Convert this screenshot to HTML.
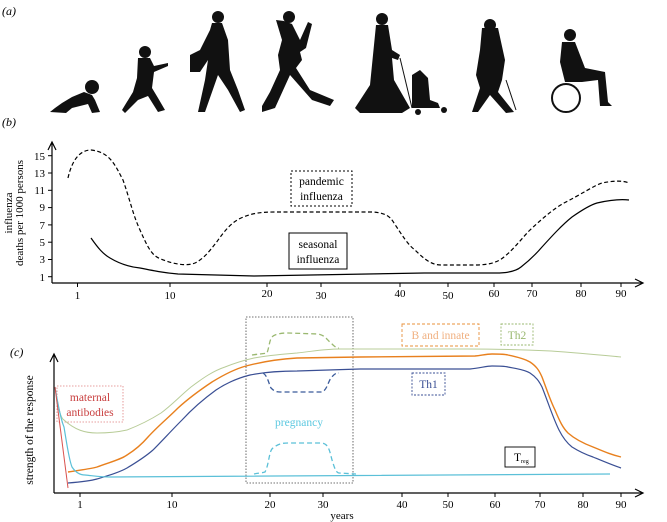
<!DOCTYPE html>
<html><head><meta charset="utf-8"><style>
html,body{margin:0;padding:0;background:#fff}
svg{display:block}
text{font-family:"Liberation Serif",serif}
</style></head><body>
<svg width="667" height="522" viewBox="0 0 667 522" xmlns="http://www.w3.org/2000/svg">
<text x="2" y="15" font-size="12" font-style="italic">(<tspan>a</tspan>)</text>
<text x="2" y="126" font-size="12" font-style="italic">(b)</text>
<text x="10" y="356" font-size="12" font-style="italic">(c)</text>

<!-- silhouettes -->
<g fill="#111">
 <!-- baby -->
 <circle cx="92" cy="87" r="7"/>
 <path d="M50 112 L55 108 L62 103 L72 97 L84 92 L92 95 L95 100 L100 112 L92 113 L88 104 L80 106 L72 108 L66 113 Z"/>
 <!-- child -->
 <circle cx="145" cy="52" r="6"/>
 <path d="M138 58 L150 58 L154 66 L168 63 L168 66 L154 72 L152 88 L158 98 L165 110 L158 112 L148 96 L138 100 L125 113 L122 110 L133 92 L137 78 Z"/>
 <!-- woman with bag -->
 <circle cx="218" cy="17" r="6"/>
 <path d="M212 23 L222 23 L228 40 L230 70 L238 90 L245 110 L240 112 L228 90 L218 75 L205 112 L198 112 L205 80 L208 60 L200 72 L190 72 L190 55 L200 50 L210 30 Z"/>
 <!-- pregnant -->
 <circle cx="289" cy="17" r="6"/>
 <path d="M276 20 L284 21 L292 24 L300 40 L308 22 L312 24 L306 48 L300 52 L302 60 L296 68 L310 90 L334 100 L330 106 L312 100 L290 75 L275 108 L262 112 L262 106 L270 92 L280 70 L278 55 L282 40 Z"/>
 <!-- woman with stroller -->
 <circle cx="382" cy="19" r="6"/>
 <path d="M376 25 L388 25 L392 50 L400 55 L398 60 L392 58 L394 80 L410 108 L402 113 L360 113 L355 108 L370 85 L373 55 Z"/>
 <path d="M412 75 L420 70 L428 78 L430 100 L438 103 L440 108 L412 108 Z"/>
 <circle cx="418" cy="112" r="3"/><circle cx="444" cy="110" r="3"/>
 <!-- elder -->
 <circle cx="490" cy="25" r="6"/>
 <path d="M482 28 L498 28 L505 60 L502 80 L498 92 L514 112 L506 113 L490 95 L478 112 L472 112 L480 88 L476 75 L480 50 Z"/>
 <!-- wheelchair -->
 <circle cx="570" cy="35" r="6"/>
 <path d="M562 42 L575 42 L585 68 L605 72 L608 102 L612 106 L600 106 L598 80 L582 82 L565 82 L560 62 Z"/>
</g>
<g fill="none" stroke="#111">
 <circle cx="566" cy="98" r="14" stroke-width="2"/>
 <line x1="506" y1="80" x2="516" y2="110" stroke-width="1"/>
 <path d="M400 58 L412 108" stroke-width="1"/>
</g>

<!-- panel b -->
<g stroke="#000" stroke-width="1.2" fill="none">
 <line x1="52" y1="143" x2="52" y2="283"/>
 <line x1="52" y1="283" x2="642" y2="283"/>
 <path d="M48 150 L52 142 L56 150"/>
 <path d="M635 279 L643 283 L635 287"/>
</g>
<g stroke="#000" stroke-width="1">
 <line x1="48" y1="155.7" x2="52" y2="155.7"/><line x1="48" y1="173" x2="52" y2="173"/>
 <line x1="48" y1="190.3" x2="52" y2="190.3"/><line x1="48" y1="207.6" x2="52" y2="207.6"/>
 <line x1="48" y1="224.9" x2="52" y2="224.9"/><line x1="48" y1="242.2" x2="52" y2="242.2"/>
 <line x1="48" y1="259.5" x2="52" y2="259.5"/><line x1="48" y1="276.7" x2="52" y2="276.7"/>
 <line x1="77.5" y1="283" x2="77.5" y2="287"/><line x1="170" y1="283" x2="170" y2="287"/>
 <line x1="267" y1="283" x2="267" y2="287"/><line x1="321" y1="283" x2="321" y2="287"/>
 <line x1="400" y1="283" x2="400" y2="287"/><line x1="448" y1="283" x2="448" y2="287"/>
 <line x1="494" y1="283" x2="494" y2="287"/><line x1="532" y1="283" x2="532" y2="287"/>
 <line x1="581" y1="283" x2="581" y2="287"/><line x1="621" y1="283" x2="621" y2="287"/>
</g>
<g font-size="11" text-anchor="end">
 <text x="45" y="160">15</text><text x="45" y="177">13</text><text x="45" y="194">11</text>
 <text x="45" y="211">9</text><text x="45" y="229">7</text><text x="45" y="246">5</text>
 <text x="45" y="263">3</text><text x="45" y="281">1</text>
</g>
<g font-size="11" text-anchor="middle">
 <text x="77.5" y="299">1</text><text x="170" y="299">10</text><text x="267" y="297">20</text>
 <text x="321" y="299">30</text><text x="400" y="297">40</text><text x="448" y="299">50</text>
 <text x="494" y="297">60</text><text x="532" y="297">70</text><text x="581" y="297">80</text><text x="621" y="297">90</text>
</g>
<g font-size="11" text-anchor="middle">
 <text transform="translate(12,213) rotate(-90)">influenza</text>
 <text transform="translate(23,213) rotate(-90)">deaths per 1000 persons</text>
</g>
<path d="M68 178 C72 160 80 150 91 150 C110 152 115 165 123 180 C130 200 133 215 140 230 C148 248 152 256 161 259 C175 265 188 266 195 263 C205 258 210 250 216 243 C225 230 232 222 241 218 C252 213 262 212 275 212 L373 212 C385 213 390 216 394 223 C402 235 408 245 415 250 C425 260 432 265 441 265 L475 265 C490 265 498 262 504 257 C515 248 522 238 530 230 C545 216 555 208 564 203 C580 195 595 185 602 183 C612 181 622 180 629 183" fill="none" stroke="#000" stroke-width="1.2" stroke-dasharray="4,2.5"/>
<path d="M91 238 C98 248 103 254 110 258 C120 264 130 267 140 268 C155 271 165 273 178 274 L254 276 L424 273 L496 273 C505 273 515 272 521 267 C530 260 536 254 542 247 C552 236 562 225 572 217 C582 210 590 205 597 203 C610 200 620 199 629 200" fill="none" stroke="#000" stroke-width="1.2"/>
<rect x="291" y="171" width="61" height="35" fill="#fff" stroke="#000" stroke-dasharray="2,2"/>
<text x="321.5" y="185" font-size="11.5" text-anchor="middle">pandemic</text>
<text x="321.5" y="200" font-size="11.5" text-anchor="middle">influenza</text>
<rect x="289" y="233" width="58" height="36" fill="#fff" stroke="#000"/>
<text x="318" y="248" font-size="11.5" text-anchor="middle">seasonal</text>
<text x="318" y="263" font-size="11.5" text-anchor="middle">influenza</text>

<!-- panel c -->
<g stroke="#000" stroke-width="1.2" fill="none">
 <line x1="54" y1="355" x2="54" y2="493"/>
 <line x1="54" y1="493" x2="642" y2="493"/>
 <path d="M50 362 L54 354 L58 362"/>
 <path d="M635 489 L643 493 L635 497"/>
</g>
<g stroke="#000" stroke-width="1">
 <line x1="80" y1="493" x2="80" y2="497"/><line x1="172" y1="493" x2="172" y2="497"/>
 <line x1="270" y1="493" x2="270" y2="497"/><line x1="323" y1="493" x2="323" y2="497"/>
 <line x1="402" y1="493" x2="402" y2="497"/><line x1="448" y1="493" x2="448" y2="497"/>
 <line x1="495" y1="493" x2="495" y2="497"/><line x1="540" y1="493" x2="540" y2="497"/>
 <line x1="583" y1="493" x2="583" y2="497"/><line x1="621" y1="493" x2="621" y2="497"/>
</g>
<g font-size="11" text-anchor="middle">
 <text x="80" y="508">1</text><text x="172" y="508">10</text><text x="270" y="508">20</text>
 <text x="323" y="508">30</text><text x="402" y="508">40</text><text x="448" y="508">50</text>
 <text x="495" y="508">60</text><text x="540" y="508">70</text><text x="583" y="508">80</text><text x="621" y="508">90</text>
 <text x="342" y="519">years</text>
 <text transform="translate(33,430) rotate(-90)" font-size="11.5">strength of the response</text>
</g>
<rect x="246" y="317" width="107" height="166" fill="none" stroke="#444" stroke-width="0.8" stroke-dasharray="1.5,1.5"/>
<rect x="57" y="386" width="66" height="36" fill="none" stroke="#e08080" stroke-width="0.8" stroke-dasharray="1.5,1.5"/>
<text x="90" y="401" font-size="11.5" fill="#c94040" text-anchor="middle">maternal</text>
<text x="90" y="416" font-size="11.5" fill="#c94040" text-anchor="middle">antibodies</text>

<path d="M55 387 C58 405 60 418 64 420 C75 430 85 433 97 433 C110 433 118 432 127 430 C140 425 150 420 161 413 C172 405 180 396 191 387 C203 378 213 371 225 367 C235 363 245 360 254 358 C270 355 285 354 297 353 C315 351 325 349 339 349 L466 349 C500 349 530 350 551 351 C580 353 600 355 621 357" fill="none" stroke="#b8cc98" stroke-width="1"/>
<path d="M68 472 C80 470 90 469 97 467 C110 462 120 460 127 455 C135 450 142 444 148 437 C158 426 168 418 178 408 C190 397 200 390 212 382 C225 374 235 369 246 366 C265 361 280 359 297 358 L360 357 L475 356 C483 355 487 354 492 354 C500 354 504 354 508 355 C518 357 525 359 530 362 C536 366 539 370 542 377 C547 390 550 400 555 410 C560 422 563 428 568 433 C576 440 585 444 593 447 C605 452 612 455 621 457" fill="none" stroke="#e8801e" stroke-width="1.4"/>
<path d="M68 483 C80 482 90 481 97 479 C110 475 120 472 127 468 C137 462 145 457 153 450 C162 441 172 430 182 420 C193 408 205 398 216 390 C228 382 238 378 250 375 C265 372 280 371 297 371 L360 369 L470 369 C480 368 487 366 492 366 C500 366 504 366 508 367 C518 369 525 370 530 373 C536 377 539 381 542 387 C548 402 553 418 559 430 C563 438 567 443 572 447 C580 452 587 455 593 457 C605 462 612 465 621 468" fill="none" stroke="#3a4f94" stroke-width="1.2"/>
<path d="M55 387 C58 405 61 420 64 427 C67 445 69 460 72 467 C76 473 80 475 85 475 C95 476 102 477 110 477 L610 474" fill="none" stroke="#5bc0d8" stroke-width="1.2"/>
<path d="M55 387 L68 488" fill="none" stroke="#d9534f" stroke-width="1"/>

<path d="M252 355 C258 354 263 354 267 353 C270 345 269 337 275 335 C280 333 285 333 288 333 L318 334 C325 335 327 340 331 343 C334 346 336 348 339 348" fill="none" stroke="#9ab870" stroke-width="1.3" stroke-dasharray="5,3"/>
<path d="M263 373 C268 376 269 385 271 388 C274 391 276 392 280 392 L322 392 C327 390 328 382 331 378 C334 374 336 373 339 373" fill="none" stroke="#3a5a9a" stroke-width="1.3" stroke-dasharray="5,3"/>
<path d="M254 474 C258 473 262 473 265 472 C269 465 269 450 273 448 C278 444 282 443 288 443 L322 443 C330 444 330 455 333 463 C335 470 337 473 339 473 L356 474" fill="none" stroke="#5bc0d8" stroke-width="1.3" stroke-dasharray="5,3"/>

<text x="299" y="426" font-size="11.5" fill="#5bc8e0" text-anchor="middle">pregnancy</text>
<rect x="402" y="324" width="77" height="22" fill="none" stroke="#e8903a" stroke-width="0.9" stroke-dasharray="3,2"/>
<text x="440.5" y="339" font-size="11.5" fill="#f0b080" text-anchor="middle">B and innate</text>
<rect x="501" y="324" width="32" height="21" fill="none" stroke="#9ab870" stroke-width="0.9" stroke-dasharray="2,1.5"/>
<text x="517" y="339" font-size="11.5" fill="#9ab870" text-anchor="middle">Th2</text>
<rect x="412" y="373" width="33" height="22" fill="none" stroke="#3a4f94" stroke-width="0.9" stroke-dasharray="2,1.5"/>
<text x="428.5" y="388" font-size="11.5" fill="#3a4f94" text-anchor="middle">Th1</text>
<rect x="505" y="447" width="30" height="20" fill="#fff" stroke="#000" stroke-width="0.9"/>
<text x="514" y="461" font-size="11.5">T<tspan font-size="6" dy="2">reg</tspan></text>
</svg>
</body></html>
